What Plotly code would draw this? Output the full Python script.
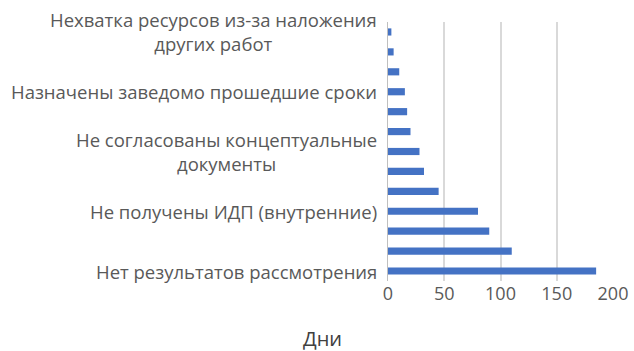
import plotly.graph_objects as go

categories = [
    "Нехватка ресурсов из-за наложения<br>других работ",
    "Причина 2",
    "Причина 3",
    "Назначены заведомо прошедшие сроки",
    "Причина 5",
    "Причина 6",
    "Не согласованы концептуальные<br>документы",
    "Причина 8",
    "Причина 9",
    "Не получены ИДП (внутренние)",
    "Причина 11",
    "Причина 12",
    "Нет результатов рассмотрения",
]
days = [3, 5, 10, 15, 17, 20, 28, 32, 45, 80, 90, 110, 185]
shown_labels = [categories[i] for i in (0, 3, 6, 9, 12)]
x_ticks = [0, 50, 100, 150, 200]
x_title = "Дни"

FONT = "Open Sans"
GREY = "#595959"

fig = go.Figure(go.Bar(
    y=categories, x=days, orientation="h",
    marker=dict(color="#4472C4", line=dict(width=0)),
))
fig.update_layout(
    width=634, height=351,
    margin=dict(l=388, r=21, t=22, b=70, autoexpand=False),
    paper_bgcolor="white", plot_bgcolor="white",
    bargap=0.64, showlegend=False,
    font=dict(family=FONT, color=GREY),
)
fig.update_yaxes(
    categoryorder="array", categoryarray=categories,
    range=[len(categories) - 0.5, -0.5], automargin=False,
    showticklabels=False,
    showline=True, linecolor="#BFBFBF", linewidth=1,
    showgrid=False, ticks="",
)
fig.update_xaxes(
    range=[0, 200], tickvals=x_ticks, automargin=False,
    tickfont=dict(size=18, color=GREY, family=FONT),
    showgrid=True, gridcolor="#D9D9D9", gridwidth=1.5,
    zeroline=False, showline=False, ticks="",
)
for lab in shown_labels:
    fig.add_annotation(
        text=lab, xref="paper", yref="y", x=0, y=lab,
        xanchor="right", yanchor="middle", xshift=-9, showarrow=False,
        align="center", font=dict(size=18.5, color=GREY, family=FONT),
    )
fig.add_annotation(
    text=x_title, xref="paper", yref="paper",
    x=(322 - 388) / (634 - 388 - 21), y=-(338 - 281) / (351 - 22 - 70),
    xanchor="center", yanchor="middle", showarrow=False,
    font=dict(size=20, color="#404040", family=FONT),
)
fig.write_html("out.html")
